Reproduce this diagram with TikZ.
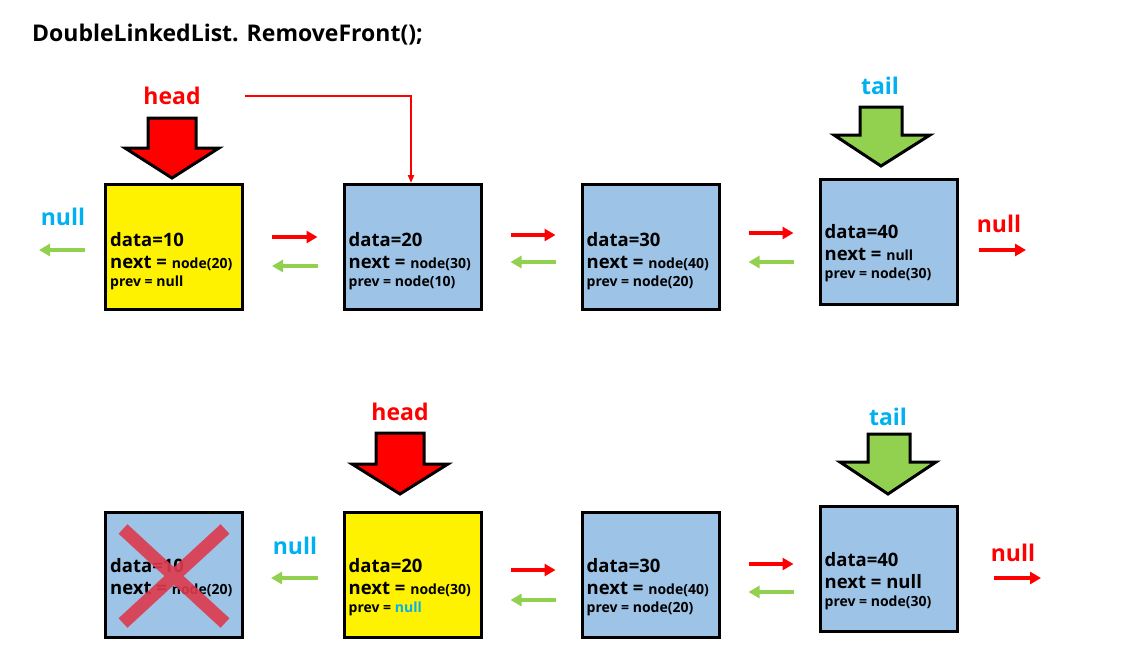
\documentclass[tikz,border=0pt]{standalone}
\usepackage{fontspec}
\setmainfont{Open Sans}
\usetikzlibrary{arrows.meta,positioning}

\definecolor{boxblue}{RGB}{157,195,230}
\definecolor{headred}{RGB}{255,0,0}
\definecolor{tailgreen}{RGB}{146,208,80}
\definecolor{nullcyan}{RGB}{0,176,240}
\definecolor{crossred}{RGB}{222,58,78}

\newcommand{\bigf}{\fontsize{18.5}{22}\selectfont}
\newcommand{\smallf}{\fontsize{14}{17}\selectfont}

\tikzset{
  listbox/.style={draw=black,line width=3pt,fill=boxblue,
                  minimum width=137pt,minimum height=125pt,inner sep=0pt},
  boxtext/.style={anchor=north west,align=left,inner sep=0pt,
                  font=\bfseries\bigf},
  ptrlabel/.style={font=\bfseries\fontsize{23}{26}\selectfont,inner sep=0pt},
  ptrbody/.style={draw=black,line width=3pt,line join=miter},
  linkarr/.style={line width=4pt,-{Triangle[length=11pt,width=12pt]}},
  nextarr/.style={linkarr,draw=headred,shorten <=28pt,shorten >=25pt},
  prevarr/.style={linkarr,draw=tailgreen,shorten <=25pt,shorten >=28pt},
}

\begin{document}
\begin{tikzpicture}[x=1pt,y=-1pt]
  \useasboundingbox (0,0) rectangle (1132,667);

  % Title
  \node[anchor=west,inner sep=0pt,font=\bfseries\fontsize{23}{26}\selectfont]
       (title) at (32,35) {DoubleLinkedList. RemoveFront();};

  % --- Before ---
  \node[listbox,fill=yellow] (b1) at (174,247) {};
  \node[listbox] (b2) at (412.5,247) {};
  \node[listbox] (b3) at (650.5,247) {};
  \node[listbox] (b4) at (888.5,241.5) {};

  \node[boxtext] (t1) at ([xshift=6pt,yshift=15pt]b1.west)
       {data=10\\ next = {\smallf node(20)}\\[-4pt] \smallf prev = null};
  \node[boxtext] (t2) at ([xshift=6pt,yshift=15pt]b2.west)
       {data=20\\ next = {\smallf node(30)}\\[-4pt] \smallf prev = node(10)};
  \node[boxtext] (t3) at ([xshift=6pt,yshift=15pt]b3.west)
       {data=30\\ next = {\smallf node(40)}\\[-4pt] \smallf prev = node(20)};
  \node[boxtext] (t4) at ([xshift=6pt,yshift=17pt]b4.west)
       {data=40\\ next = {\smallf null}\\[-4pt] \smallf prev = node(30)};

  % head / tail
  \node[ptrlabel,text=headred] (head1) at (172,96) {head};
  \draw[ptrbody,fill=headred]
       (148,118) -- (196,118) -- (196,148) -- (219,148) -- (172,178)
       -- (125,148) -- (148,148) -- cycle;
  \node[ptrlabel,text=nullcyan] (tail1) at (880,86) {tail};
  \draw[ptrbody,fill=tailgreen]
       (860,107) -- (902,107) -- (902,135) -- (930,135) -- (881,166)
       -- (834,135) -- (860,135) -- cycle;

  % new head
  \coordinate (newhead) at (245,96);
  \draw[headred,line width=2pt,-{Triangle[length=8pt,width=6pt]}]
       (newhead) -| ([xshift=-1.5pt]b2.north);

  % links
  \draw[nextarr] ([yshift=10pt]b1.east) -- ([yshift=10pt]b1.east -| b2.west);
  \draw[prevarr] ([yshift=-19pt]b2.west) -- ([yshift=-19pt]b2.west -| b1.east);
  \draw[nextarr] ([yshift=12pt]b2.east) -- ([yshift=12pt]b2.east -| b3.west);
  \draw[prevarr] ([yshift=-15pt]b3.west) -- ([yshift=-15pt]b3.west -| b2.east);
  \draw[nextarr] ([yshift=14pt]b3.east) -- ([yshift=14pt]b3.east -| b4.west);
  \draw[prevarr] ([yshift=-15pt]b3.east -| b4.west) -- ([yshift=-15pt]b3.east);

  % null ends
  \node[ptrlabel,text=nullcyan] (nullL1) at (63,217) {null};
  \coordinate (endL1) at (39,250);
  \draw[linkarr,draw=tailgreen,shorten <=19pt] (b1.west |- endL1) -- (endL1);
  \node[ptrlabel,text=headred] (nullR1) at (999,224) {null};
  \coordinate (endR1) at (1026,250);
  \draw[linkarr,draw=headred,shorten <=20pt] (b4.east |- endR1) -- (endR1);

  % --- After ---
  \node[listbox] (c1) at (174,574.5) {};
  \node[listbox,fill=yellow] (c2) at (412.5,574.5) {};
  \node[listbox] (c3) at (650.5,574.5) {};
  \node[listbox] (c4) at (888.5,568.5) {};

  \node[boxtext] (u1) at ([xshift=6pt,yshift=16pt]c1.west)
       {data=10\\ next = {\smallf node(20)}};
  \node[boxtext] (u2) at ([xshift=6pt,yshift=16pt]c2.west)
       {data=20\\ next = {\smallf node(30)}\\[-4pt] \smallf prev = \textcolor{nullcyan}{null}};
  \node[boxtext] (u3) at ([xshift=6pt,yshift=16pt]c3.west)
       {data=30\\ next = {\smallf node(40)}\\[-4pt] \smallf prev = node(20)};
  \node[boxtext] (u4) at ([xshift=6pt,yshift=16pt]c4.west)
       {data=40\\ next = null\\[-4pt] \smallf prev = node(30)};

  % removed node
  \draw[crossred,opacity=0.9,line width=13pt]
       (123,529) -- (225,623) (225,529) -- (123,623);

  % head / tail
  \node[ptrlabel,text=headred] (head2) at (400,412) {head};
  \draw[ptrbody,fill=headred]
       (376,433) -- (424,433) -- (424,464) -- (448,464) -- (400,494)
       -- (352,464) -- (376,464) -- cycle;
  \node[ptrlabel,text=nullcyan] (tail2) at (888,417) {tail};
  \draw[ptrbody,fill=tailgreen]
       (868,434) -- (910,434) -- (910,462) -- (936,462) -- (888,494)
       -- (840,462) -- (868,462) -- cycle;

  % links
  \node[ptrlabel,text=nullcyan] (nullL2) at (295,546) {null};
  \draw[prevarr,shorten >=27pt] ([yshift=-3.5pt]c2.west) -- ([yshift=-3.5pt]c2.west -| c1.east);
  \draw[nextarr] ([yshift=4.5pt]c2.east) -- ([yshift=4.5pt]c2.east -| c3.west);
  \draw[prevarr] ([yshift=-25.5pt]c3.west) -- ([yshift=-25.5pt]c3.west -| c2.east);
  \draw[nextarr] ([yshift=10.5pt]c3.east) -- ([yshift=10.5pt]c3.east -| c4.west);
  \draw[prevarr] ([yshift=-17.5pt]c3.east -| c4.west) -- ([yshift=-17.5pt]c3.east);

  \node[ptrlabel,text=headred] (nullR2) at (1013,553) {null};
  \coordinate (endR2) at (1041,578);
  \draw[linkarr,draw=headred,shorten <=35pt] (c4.east |- endR2) -- (endR2);
\end{tikzpicture}
\end{document}
